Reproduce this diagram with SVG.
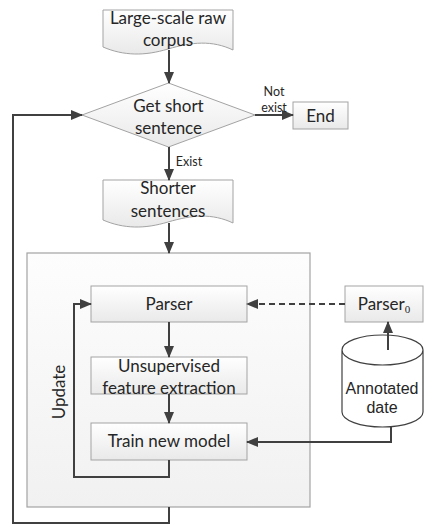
<svg xmlns="http://www.w3.org/2000/svg" width="424" height="524" viewBox="0 0 424 524">
  <style>
    .shape { fill: url(#boxFill); stroke: #a3a3a3; stroke-width: 1; }
    .frame { fill: url(#frameFill); stroke: #a3a3a3; stroke-width: 1.2; }
    .cyl { fill: #ffffff; stroke: #404040; stroke-width: 1.2; }
    .lbl { font-family: Lato, "Open Sans", sans-serif; font-size: 17px; fill: #262626; text-anchor: middle; }
    .lbl-sm { font-family: Lato, "Open Sans", sans-serif; font-size: 12.5px; fill: #262626; text-anchor: middle; }
    .lbl-arial { font-family: "Liberation Sans", Arial, sans-serif; font-size: 16px; fill: #262626; text-anchor: middle; }
    .conn { fill: none; stroke: #404040; stroke-width: 2; marker-end: url(#arrow); }
    .dash { stroke-dasharray: 6 4; }
  </style>
  <defs>
    <linearGradient id="boxFill" x1="0" y1="0" x2="0" y2="1">
      <stop offset="0" stop-color="#ffffff"/>
      <stop offset="1" stop-color="#e9e9e9"/>
    </linearGradient>
    <linearGradient id="frameFill" x1="0" y1="0" x2="0" y2="1">
      <stop offset="0" stop-color="#fdfdfd"/>
      <stop offset="1" stop-color="#f1f1f1"/>
    </linearGradient>
    <marker id="arrow" markerUnits="userSpaceOnUse" markerWidth="12" markerHeight="10" refX="11" refY="5" orient="auto">
      <path d="M0,0 L12,5 L0,10 Z" fill="#404040"/>
    </marker>
  </defs>

  <!-- outer update frame -->
  <g id="update-frame">
    <rect class="frame" x="27" y="253" width="283" height="254"/>
    <text class="lbl" font-size="20" transform="translate(65,392) rotate(-90)">Update</text>
  </g>

  <g id="raw-corpus">
    <path class="shape" d="M103,10 H233 V50 C212,40 192,42 168,49 C145,56 124,56 103,47 Z"/>
    <text class="lbl" x="168" y="24">Large-scale raw</text>
    <text class="lbl" x="168" y="46">corpus</text>
  </g>

  <g id="get-short">
    <path class="shape" d="M168.5,83 L255,115 L168.5,147 L82,115 Z"/>
    <text class="lbl" x="168.5" y="112">Get short</text>
    <text class="lbl" x="168.5" y="134">sentence</text>
  </g>

  <g id="end">
    <rect class="shape" x="293" y="102" width="55" height="27"/>
    <text class="lbl" x="320.5" y="122">End</text>
  </g>

  <g id="shorter-sentences">
    <path class="shape" d="M103,180 H233 V223 C212,213 192,215 168,222 C145,229 124,229 103,220 Z"/>
    <text class="lbl" x="168" y="194">Shorter</text>
    <text class="lbl" x="168" y="217">sentences</text>
  </g>

  <g id="parser">
    <rect class="shape" x="91" y="286" width="156" height="36"/>
    <text class="lbl" x="169" y="310">Parser</text>
  </g>

  <g id="feature-extraction">
    <rect class="shape" x="91" y="357" width="156" height="37"/>
    <text class="lbl" x="169" y="372">Unsupervised</text>
    <text class="lbl" x="169" y="394">feature extraction</text>
  </g>

  <g id="train-model">
    <rect class="shape" x="91" y="423" width="156" height="37"/>
    <text class="lbl" x="169" y="447">Train new model</text>
  </g>

  <g id="parser0">
    <rect class="shape" x="345" y="286" width="78" height="36"/>
    <text class="lbl" x="384" y="310">Parser<tspan font-family="'Liberation Serif', serif" font-size="11" dy="3">0</tspan></text>
  </g>

  <g id="annotated-data">
    <path class="cyl" d="M342,350 V412 A40.5,15 0 0 0 423,412 V350 A40.5,15 0 0 0 342,350 A40.5,15 0 0 0 423,350"/>
    <text class="lbl-arial" x="382" y="394">Annotated</text>
    <text class="lbl-arial" x="382" y="413">date</text>
  </g>

  <g id="connectors">
    <path class="conn" d="M169,50 V83"/>
    <path class="conn" d="M255,115 H293"/>
    <path class="conn" d="M169,147 V180"/>
    <path class="conn" d="M169,223 V253"/>
    <path class="conn" d="M169,322 V357"/>
    <path class="conn" d="M169,394 V423"/>
    <path class="conn" d="M169,460 V477 H74 V304 H91"/>
    <path class="conn" d="M169,507 V523 H13 V115 H82"/>
    <path class="conn dash" d="M345,304 H247"/>
    <path class="conn" d="M388,350 V322"/>
    <path class="conn" d="M391,427 V442 H247"/>
    <text class="lbl-sm" x="274" y="96">Not</text>
    <text class="lbl-sm" x="274" y="112">exist</text>
    <text class="lbl-sm" x="189" y="166">Exist</text>
  </g>
</svg>
